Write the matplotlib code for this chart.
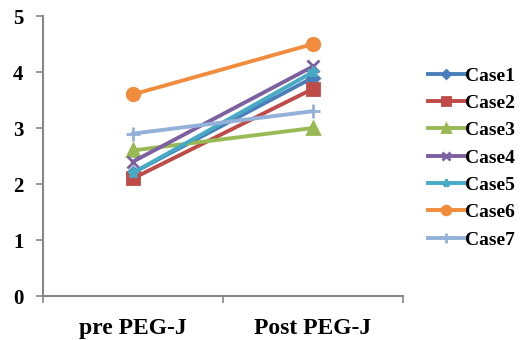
import matplotlib
matplotlib.use("Agg")
import matplotlib.pyplot as plt

categories = ["pre PEG-J", "Post PEG-J"]
series_names = ["Case1", "Case2", "Case3", "Case4", "Case5", "Case6", "Case7"]
case1 = [2.2, 3.9]
case2 = [2.1, 3.7]
case3 = [2.6, 3.0]
case4 = [2.4, 4.1]
case5 = [2.2, 4.0]
case6 = [3.6, 4.5]
case7 = [2.9, 3.3]
yticks = [0, 1, 2, 3, 4, 5]

series = [case1, case2, case3, case4, case5, case6, case7]
colors = ["#4A7EBB", "#BE4B48", "#98B954", "#7D60A0", "#46AAC5", "#F08C3C", "#93B1D8"]
markers = ["D", "s", "^", "x", "*", "o", "+"]
msizes = [6, 8, 8, 8, 8, 9, 10]

plt.rcParams["font.family"] = ["Liberation Serif", "DejaVu Serif"]
fig = plt.figure(figsize=(5.21, 3.40), dpi=100)
ax = fig.add_axes([43/521, 1-296/340, 360/521, 280/340])

xs = [0.5, 1.5]
for name, vals, c, m, ms in zip(series_names, series, colors, markers, msizes):
    ax.plot(xs, vals, color=c, lw=2.8, marker=m, markersize=ms,
            markeredgewidth=2, markeredgecolor=c, markerfacecolor=c, label=name)

ax.set_xlim(0, 2)
ax.set_ylim(0, 5)
ax.set_yticks(yticks)
ax.set_yticklabels([str(v) for v in yticks], fontsize=15, fontweight="bold")
ax.set_xticks([0, 1, 2])
ax.set_xticklabels([])
ax.set_xticks(xs, minor=True)
ax.set_xticklabels(categories, minor=True, fontsize=17, fontweight="bold")
ax.tick_params(axis="x", which="minor", length=0, pad=16)
ax.tick_params(axis="x", which="major", length=5, color="#868686", width=1.2)
ax.tick_params(axis="y", length=5, color="#868686", width=1.2, pad=9)
for s in ["top", "right"]:
    ax.spines[s].set_visible(False)
for s in ["left", "bottom"]:
    ax.spines[s].set_color("#868686")
    ax.spines[s].set_linewidth(1.5)

leg = fig.legend(loc="upper left", bbox_to_anchor=(428/521, 1-67/340), frameon=False,
                 prop={"size": 14, "weight": "bold"}, handlelength=1.9,
                 handletextpad=0.0, labelspacing=0.5, borderpad=0,
                 borderaxespad=0, markerscale=0.7)
fig.savefig("out.png", dpi=100)
